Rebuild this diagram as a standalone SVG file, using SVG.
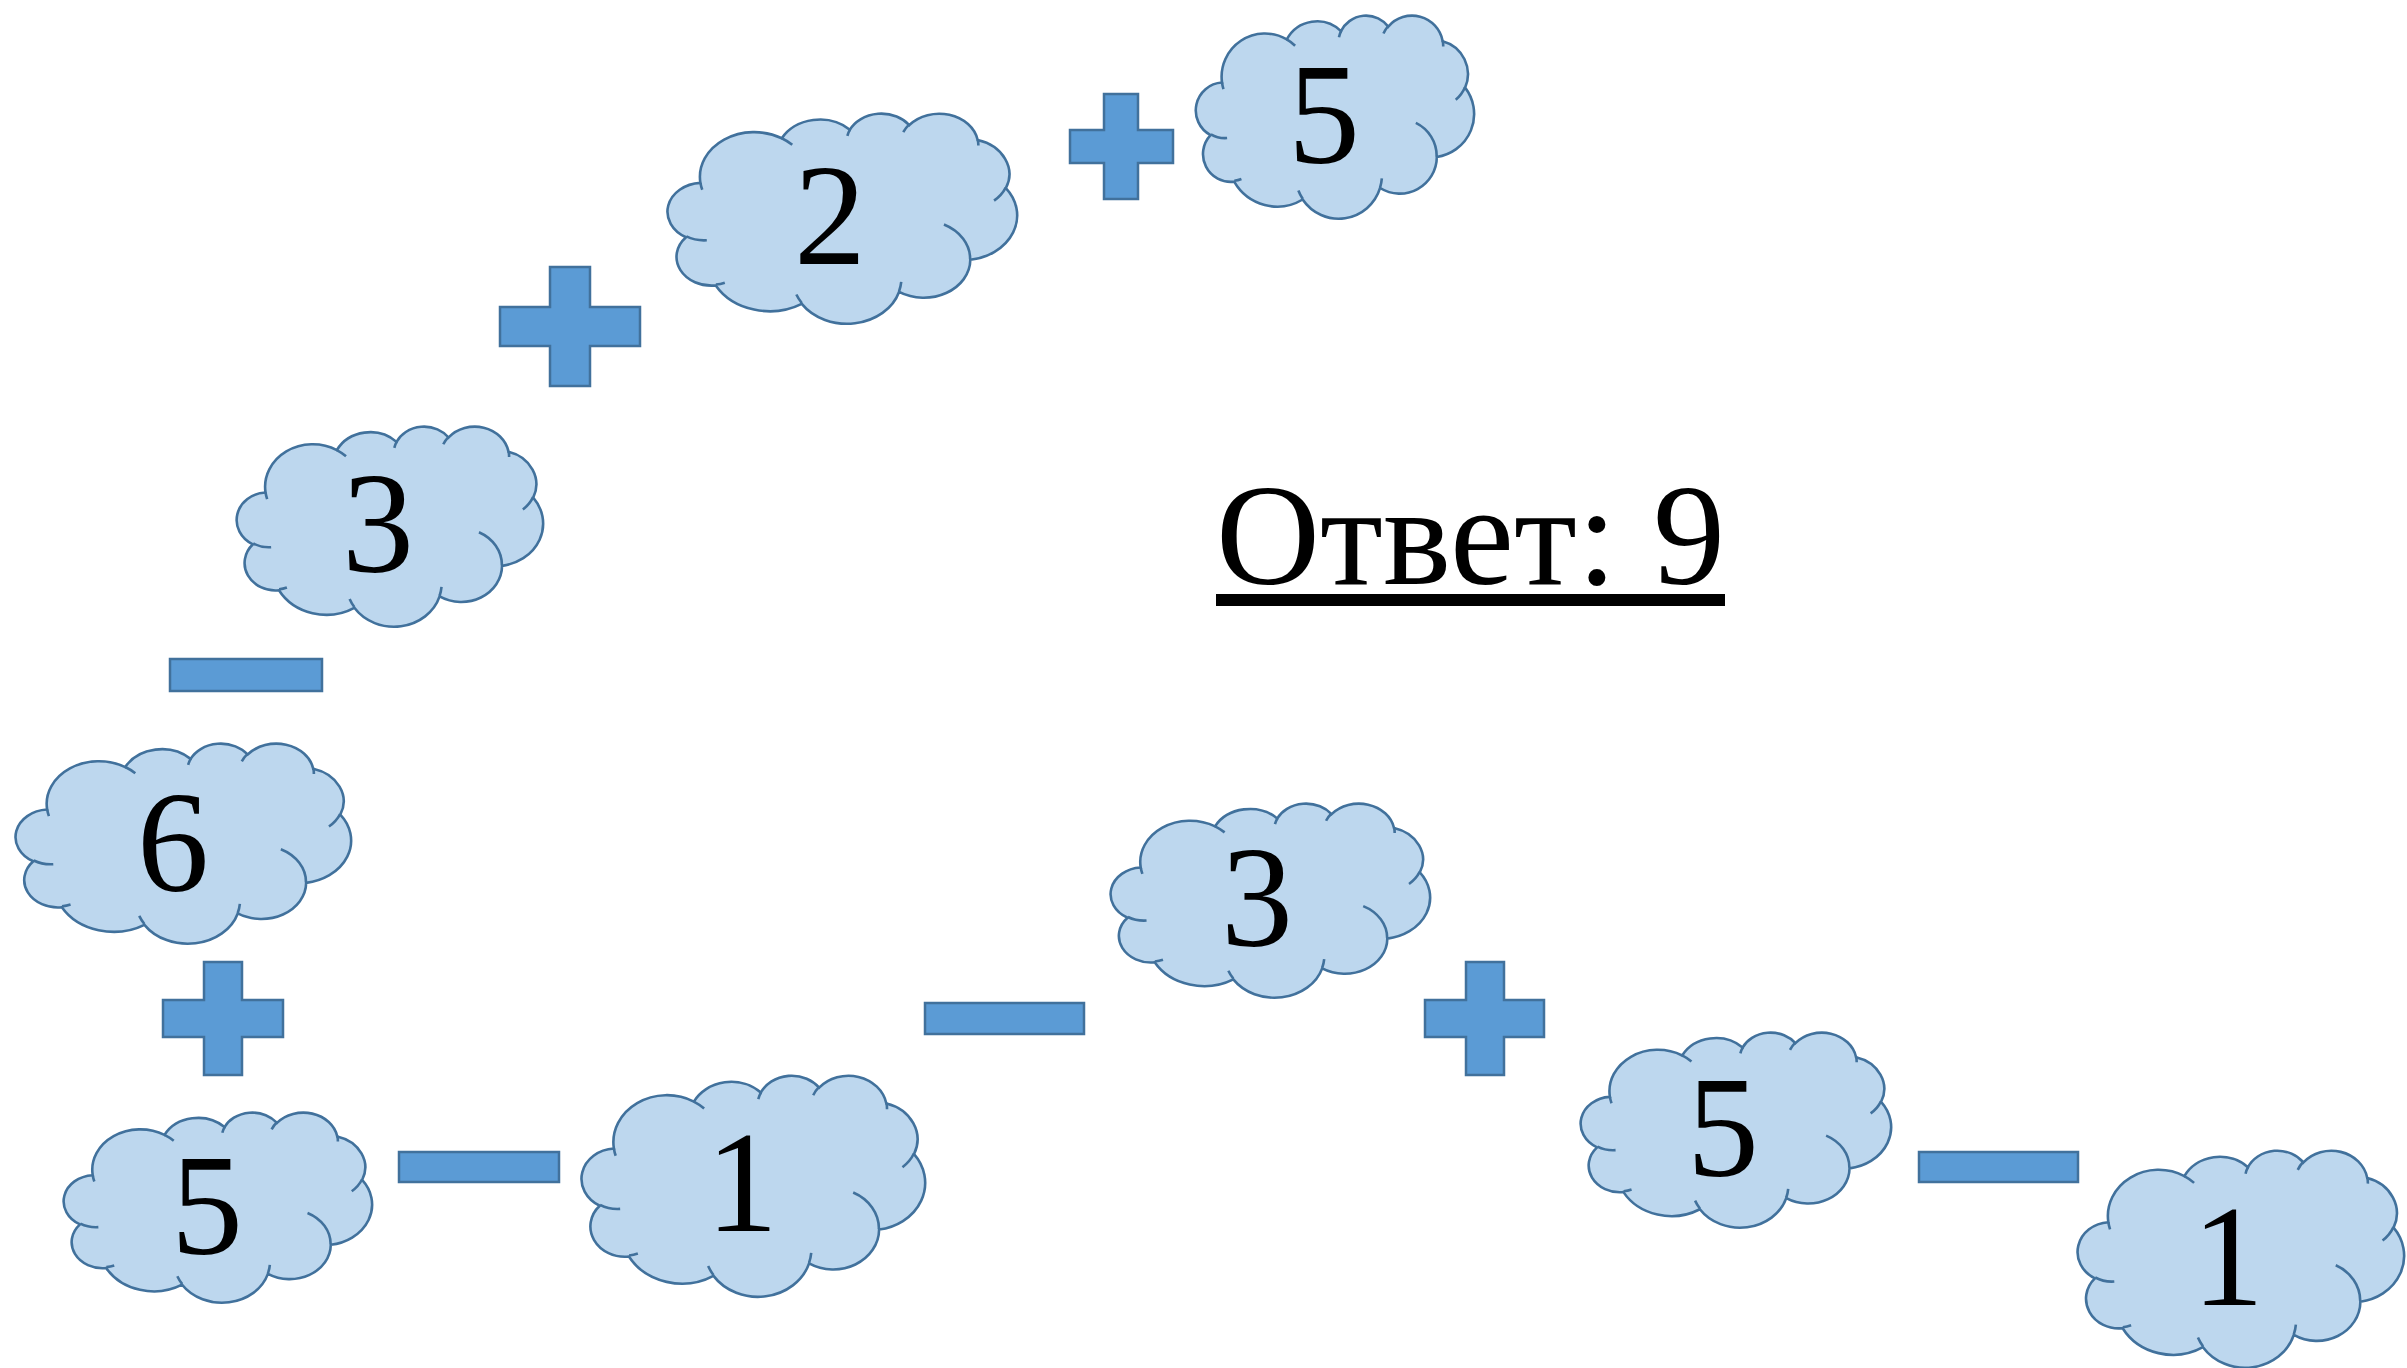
<svg xmlns="http://www.w3.org/2000/svg" xmlns:xlink="http://www.w3.org/1999/xlink" width="2407" height="1368" viewBox="0 0 2407 1368">
<style>
.cloud{fill:#BDD7EE;stroke:#41719C;stroke-width:2.6;vector-effect:non-scaling-stroke}
.cloudln{fill:none;stroke:#41719C;stroke-width:2.6;vector-effect:non-scaling-stroke}
.num{font-family:"Liberation Serif","Times New Roman",serif;font-size:144px;fill:#000;text-anchor:middle}
.op{fill:#5B9BD5;stroke:#41719C;stroke-width:2.5}
.ans{font-family:"Liberation Serif","Times New Roman",serif;font-size:144px;fill:#000}
</style>
<defs>
<g id="cloudShape">
<path class="cloud" d="M39,143.7 A67.53,91.9 0 0 1 140.04,52 A53.33,72.67 0 0 1 224.55,34.3 A43.65,59.45 0 0 1 298.32,24.78 A48.57,65.95 0 0 1 383.17,55.72 A53.33,72.73 0 0 1 418.17,154.58 A67.75,92.2 0 0 1 374.03,302.03 A57.85,78.67 0 0 1 285.54,368.13 A67.52,92.15 0 0 1 164.8,392.66 A77.2,105.43 0 0 1 58.01,354.74 A43.6,59.18 0 0 1 21.11,255.51 A43.45,59.45 0 0 1 39,143.7 Z"/>
<path class="cloudln" d="M46.93,261.77 A43.45,59.45 0 0 1 21.59,253.8 M69.28,348.99 A43.6,59.18 0 0 1 58.19,352.81 M164.78,390.9 A67.52,92.15 0 0 1 158.09,373.47 M288.27,347.51 A67.52,92.15 0 0 1 285.6,366.62 M341.29,229.54 A57.85,78.67 0 0 1 373.8,300.89 M417.98,153.54 A53.33,72.73 0 0 1 403.51,180.28 M383.24,54.26 A48.57,65.95 0 0 1 384,66.91 M290.78,39.52 A48.57,65.95 0 0 1 298.21,23.39 M221.41,47.2 A43.65,59.45 0 0 1 225,33.31 M140,51.92 A67.53,91.9 0 0 1 153.01,65.42 M41.27,157.89 A67.53,91.9 0 0 1 39.01,143.71"/>
</g>
</defs>
<rect width="2407" height="1368" fill="#FFFFFF"/>

<g id="operators">
<path class="op" d="M1104,94 H1138 V130 H1173 V163 H1138 V199 H1104 V163 H1070 V130 H1104 Z"/>
<path class="op" d="M550,267 H590 V307 H640 V346 H590 V386 H550 V346 H500 V307 H550 Z"/>
<path class="op" d="M204,962 H242 V1000 H283 V1037 H242 V1075 H204 V1037 H163 V1000 H204 Z"/>
<path class="op" d="M1466,962 H1504 V1000 H1544 V1037 H1504 V1075 H1466 V1037 H1425 V1000 H1466 Z"/>
<rect class="op" x="170" y="659" width="152" height="32"/>
<rect class="op" x="399" y="1152" width="160" height="30"/>
<rect class="op" x="925" y="1003" width="159" height="31"/>
<rect class="op" x="1919" y="1152" width="159" height="30"/>
</g>

<g id="n-5-top">
<use xlink:href="#cloudShape" transform="translate(1197,15) scale(0.6412,0.4699)"/>
<text class="num" x="1324" y="163">5</text>
</g>
<g id="n-2">
<use xlink:href="#cloudShape" transform="translate(669,113) scale(0.8056,0.4861)"/>
<text class="num" x="830" y="264">2</text>
</g>
<g id="n-3-upper">
<use xlink:href="#cloudShape" transform="translate(238,426) scale(0.7060,0.4630)"/>
<text class="num" x="378" y="572">3</text>
</g>
<g id="n-6">
<use xlink:href="#cloudShape" transform="translate(17,743) scale(0.7731,0.4630)"/>
<text class="num" x="173" y="891">6</text>
</g>
<g id="n-5-left">
<use xlink:href="#cloudShape" transform="translate(65,1112) scale(0.7106,0.4398)"/>
<text class="num" x="207" y="1254">5</text>
</g>
<g id="n-1-left">
<use xlink:href="#cloudShape" transform="translate(583,1075) scale(0.7917,0.5116)"/>
<text class="num" x="742" y="1231">1</text>
</g>
<g id="n-3-mid">
<use xlink:href="#cloudShape" transform="translate(1112,803) scale(0.7361,0.4491)"/>
<text class="num" x="1257" y="946">3</text>
</g>
<g id="n-5-right">
<use xlink:href="#cloudShape" transform="translate(1582,1032) scale(0.7153,0.4514)"/>
<text class="num" x="1723" y="1176">5</text>
</g>
<g id="n-1-right">
<use xlink:href="#cloudShape" transform="translate(2079,1150) scale(0.7523,0.5023)"/>
<text class="num" x="2228" y="1305">1</text>
</g>

<g id="answer">
<text class="ans" x="1216" y="584">Ответ: 9</text>
<rect x="1216" y="594" width="509" height="12" fill="#000"/>
</g>
</svg>
